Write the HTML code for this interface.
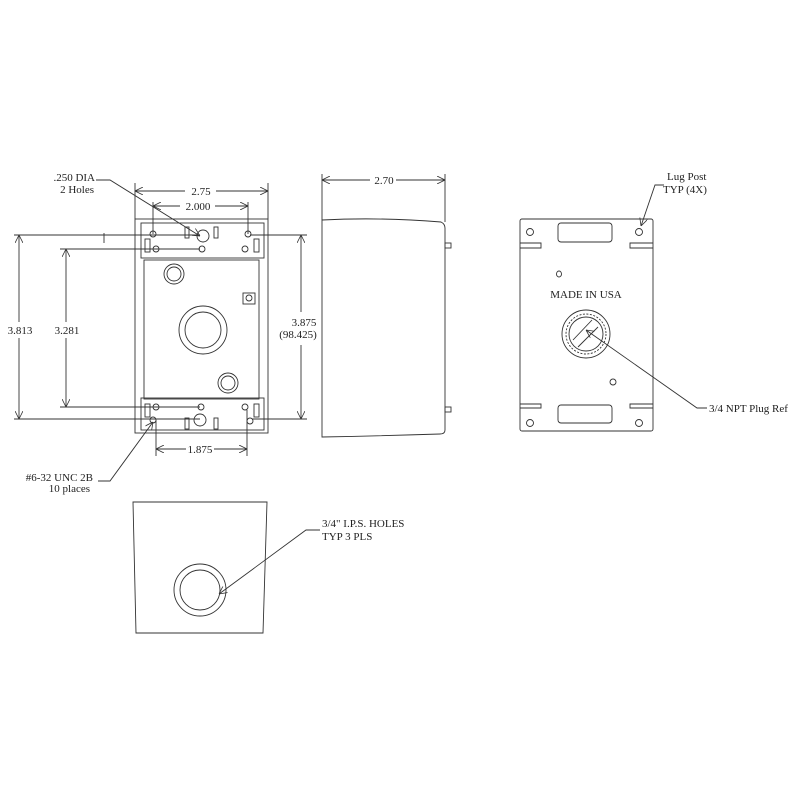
<!DOCTYPE html>
<html><head><meta charset="utf-8"><style>body{margin:0;background:#fff}svg{display:block}text{font-family:"Liberation Serif",serif;font-size:11px;fill:#222}</style></head><body>
<svg width="800" height="800" viewBox="0 0 800 800" xmlns="http://www.w3.org/2000/svg">
<defs><marker id="a" markerWidth="8" markerHeight="8" refX="8" refY="4" orient="auto-start-reverse" markerUnits="userSpaceOnUse"><path d="M0,0 L8,4 L0,8" fill="none" stroke="#333" stroke-width="0.8"/></marker></defs>
<g stroke="#333" stroke-width="0.9" fill="none">
<!-- front view -->
<rect x="135" y="219" width="133" height="214"/>
<rect x="141" y="223" width="123" height="35"/>
<rect x="144" y="260" width="115" height="139"/>
<rect x="141" y="398" width="123" height="32"/>
<rect x="185" y="227" width="4" height="11"/><rect x="214" y="227" width="4" height="11"/>
<rect x="185" y="418" width="4" height="11"/><rect x="214" y="418" width="4" height="11"/>
<rect x="145" y="239" width="5" height="13"/><rect x="254" y="239" width="5" height="13"/>
<rect x="145" y="404" width="5" height="13"/><rect x="254" y="404" width="5" height="13"/>
<circle cx="153" cy="234" r="3"/><circle cx="248" cy="234" r="3"/><circle cx="203" cy="236" r="6"/>
<circle cx="156" cy="249" r="3"/><circle cx="202" cy="249" r="3"/><circle cx="245" cy="249" r="3"/>
<circle cx="156" cy="407" r="3"/><circle cx="201" cy="407" r="3"/><circle cx="245" cy="407" r="3"/>
<circle cx="153" cy="420" r="3"/><circle cx="200" cy="420" r="6"/><circle cx="250" cy="421" r="3"/>
<circle cx="203" cy="330" r="24"/><circle cx="203" cy="330" r="18"/>
<circle cx="174" cy="274" r="10"/><circle cx="174" cy="274" r="7"/>
<circle cx="228" cy="383" r="10"/><circle cx="228" cy="383" r="7"/>
<rect x="243" y="293" width="12" height="11"/><circle cx="249" cy="298" r="3"/>
<!-- dims -->
<line x1="135" y1="183" x2="135" y2="219"/><line x1="268" y1="183" x2="268" y2="219"/>
<line x1="135" y1="191" x2="185" y2="191" marker-start="url(#a)"/><line x1="216" y1="191" x2="268" y2="191" marker-end="url(#a)"/>
<line x1="153" y1="202" x2="153" y2="234"/><line x1="248" y1="202" x2="248" y2="234"/>
<line x1="153" y1="206" x2="180" y2="206" marker-start="url(#a)"/><line x1="215" y1="206" x2="248" y2="206" marker-end="url(#a)"/>
<line x1="14" y1="235" x2="200" y2="235"/><line x1="14" y1="419" x2="200" y2="419"/>
<line x1="19" y1="235" x2="19" y2="322" marker-start="url(#a)"/><line x1="19" y1="338" x2="19" y2="419" marker-end="url(#a)"/>
<line x1="60" y1="249" x2="200" y2="249"/><line x1="60" y1="407" x2="200" y2="407"/>
<line x1="66" y1="249" x2="66" y2="322" marker-start="url(#a)"/><line x1="66" y1="338" x2="66" y2="407" marker-end="url(#a)"/>
<line x1="104" y1="233" x2="104" y2="243"/>
<line x1="250" y1="235" x2="307" y2="235"/><line x1="252" y1="419" x2="307" y2="419"/>
<line x1="301" y1="235" x2="301" y2="312" marker-start="url(#a)"/><line x1="301" y1="345" x2="301" y2="419" marker-end="url(#a)"/>
<line x1="156" y1="420" x2="156" y2="456"/><line x1="247" y1="410" x2="247" y2="456"/>
<line x1="156" y1="449" x2="186" y2="449" marker-start="url(#a)"/><line x1="214" y1="449" x2="247" y2="449" marker-end="url(#a)"/>
<polyline points="96,180 110,180 200,236" marker-end="url(#a)"/>
<polyline points="98,481 110,481 153,422" marker-end="url(#a)"/>
<!-- side view -->
<path d="M322,220 Q380,217 441,222 Q445,224 445,228 L445,430 Q445,434 440,434 Q380,436 322,437 Z"/>
<rect x="445" y="243" width="6" height="5"/><rect x="445" y="407" width="6" height="5"/>
<line x1="322" y1="174" x2="322" y2="220"/><line x1="445" y1="174" x2="445" y2="222"/>
<line x1="322" y1="180" x2="370" y2="180" marker-start="url(#a)"/><line x1="396" y1="180" x2="445" y2="180" marker-end="url(#a)"/>
<!-- back view -->
<rect x="520" y="219" width="133" height="212" rx="2"/>
<rect x="558" y="223" width="54" height="19" rx="3"/><rect x="558" y="405" width="54" height="18" rx="3"/>
<circle cx="530" cy="232" r="3.5"/><circle cx="639" cy="232" r="3.5"/><circle cx="530" cy="423" r="3.5"/><circle cx="639" cy="423" r="3.5"/>
<polyline points="520,243 541,243 541,248 520,248"/><polyline points="653,243 630,243 630,248 653,248"/>
<polyline points="520,404 541,404 541,408 520,408"/><polyline points="653,404 630,404 630,408 653,408"/>
<ellipse cx="559" cy="274" rx="2.5" ry="3"/><circle cx="613" cy="382" r="3"/>
<circle cx="586" cy="334" r="24"/><circle cx="586" cy="334" r="20" stroke-dasharray="2,1.5"/><circle cx="586" cy="334" r="17"/>
<line x1="573" y1="340" x2="592" y2="320"/><line x1="578" y1="347" x2="598" y2="327"/>
<polyline points="707,408 697,408 586,330" marker-end="url(#a)"/>
<polyline points="664,185 655,185 641,226" marker-end="url(#a)"/>
<!-- bottom view -->
<path d="M133,502 L267,502 L263,633 L136,633 Z"/>
<circle cx="200" cy="590" r="26"/><circle cx="200" cy="590" r="20"/>
<polyline points="320,530 306,530 219,594" marker-end="url(#a)"/>
</g>
<g>
<text x="95" y="181" text-anchor="end">.250 DIA</text><text x="94" y="193" text-anchor="end">2 Holes</text>
<text x="201" y="195" text-anchor="middle">2.75</text>
<text x="198" y="210" text-anchor="middle">2.000</text>
<text x="20" y="334" text-anchor="middle">3.813</text>
<text x="67" y="334" text-anchor="middle">3.281</text>
<text x="304" y="326" text-anchor="middle">3.875</text><text x="298" y="338" text-anchor="middle">(98.425)</text>
<text x="200" y="453" text-anchor="middle">1.875</text>
<text x="93" y="481" text-anchor="end">#6-32 UNC 2B</text><text x="90" y="492" text-anchor="end">10 places</text>
<text x="384" y="184" text-anchor="middle">2.70</text>
<text x="586" y="298" text-anchor="middle">MADE IN USA</text>
<text x="709" y="412">3/4 NPT Plug Ref</text>
<text x="667" y="180">Lug Post</text><text x="663" y="193">TYP (4X)</text>
<text x="322" y="527">3/4" I.P.S. HOLES</text><text x="322" y="540">TYP 3 PLS</text>
</g>
</svg>
</body></html>
